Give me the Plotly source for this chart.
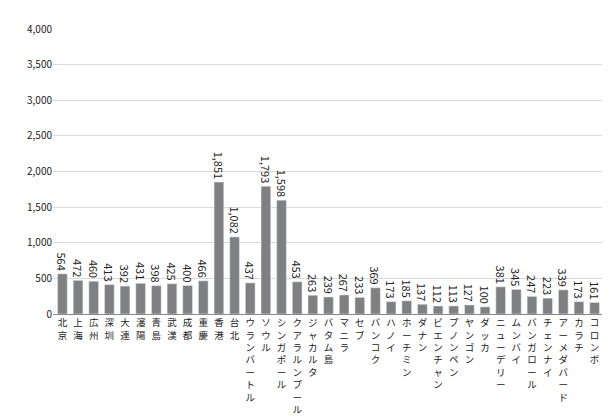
import plotly.graph_objects as go

cities = ["北京","上海","広州","深圳","大連","瀋陽","青島","武漢","成都","重慶","香港","台北","ウランバートル","ソウル","シンガポール","クアラルンプール","ジャカルタ","バタム島","マニラ","セブ","バンコク","ハノイ","ホーチミン","ダナン","ビエンチャン","プノンペン","ヤンゴン","ダッカ","ニューデリー","ムンバイ","バンガロール","チェンナイ","アーメダバード","カラチ","コロンボ"]
values = [564,472,460,413,392,431,398,425,400,466,1851,1082,437,1793,1598,453,263,239,267,233,369,173,185,137,112,113,127,100,381,345,247,223,339,173,161]
yticks = [0,500,1000,1500,2000,2500,3000,3500,4000]

ticktext = ["<br>".join(list(c)) for c in cities]

fig = go.Figure(go.Bar(
    x=list(range(len(cities))), y=values, marker_color="#808080", width=0.62,
    text=[f"{v:,}" for v in values], textposition="outside", textangle=90,
    textfont=dict(size=11, color="#222"), cliponaxis=False))
fig.update_layout(
    width=610, height=420, margin=dict(l=45, r=14, t=12, b=110),
    plot_bgcolor="white", paper_bgcolor="white", showlegend=False,
    font=dict(family="Noto Sans CJK JP", size=11, color="#222"),
    uniformtext=dict(minsize=10, mode="show"),
)
fig.update_xaxes(tickvals=list(range(len(cities))), ticktext=ticktext, tickangle=0,
                 range=[-0.6, len(cities)-0.4], showline=True, linecolor="#888",
                 tickfont=dict(size=9.5), ticks="")
fig.update_yaxes(range=[0,4000], tickvals=yticks, tickformat=",", gridcolor="#d9d9d9",
                 zeroline=False, tickfont=dict(size=10))
fig.write_html("out.html")
